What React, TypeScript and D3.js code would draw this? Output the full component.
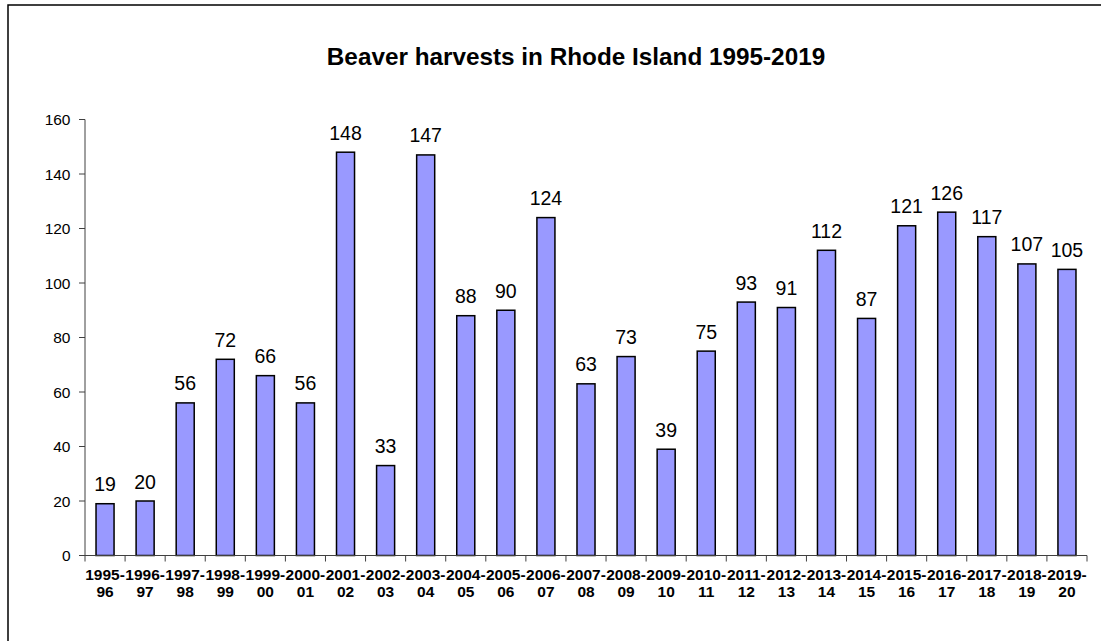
import React from "react";
import * as d3 from "d3";

// Beaver harvest counts per trapping season
const seasons = [
  "1995-96", "1996-97", "1997-98", "1998-99", "1999-00", "2000-01", "2001-02",
  "2002-03", "2003-04", "2004-05", "2005-06", "2006-07", "2007-08", "2008-09",
  "2009-10", "2010-11", "2011-12", "2012-13", "2013-14", "2014-15", "2015-16",
  "2016-17", "2017-18", "2018-19", "2019-20",
];
const harvests = [
  19, 20, 56, 72, 66, 56, 148, 33, 147, 88, 90, 124, 63, 73, 39, 75, 93, 91,
  112, 87, 121, 126, 117, 107, 105,
];
const yTicks = [0, 20, 40, 60, 80, 100, 120, 140, 160];
const title = "Beaver harvests in Rhode Island 1995-2019";

const W = 1101;
const H = 641;
const left = 85;
const right = 1087;
const top = 119.5;
const bottom = 555.5;
const font = "'Liberation Sans', Arial, sans-serif";

export default function App() {
  const x = d3
    .scaleBand<string>()
    .domain(seasons)
    .range([left, right])
    .paddingInner(0.55)
    .paddingOuter(0.275);
  const y = d3.scaleLinear().domain([0, 160]).range([bottom, top]);
  const boundaries = d3
    .range(seasons.length + 1)
    .map((i) => left + i * ((right - left) / seasons.length));

  return (
    <svg
      width={W}
      height={H}
      style={{ position: "absolute", left: 0, top: 0, background: "#fff" }}
      fontFamily={font}
    >
      <rect x={8} y={5} width={W} height={H} fill="#fff" stroke="#000" strokeWidth={1.5} />
      <text x={576} y={64.5} textAnchor="middle" fontSize={24.3} fontWeight="bold" fill="#000">
        {title}
      </text>

      {/* y axis */}
      <line x1={left} x2={left} y1={y(160)} y2={y(0)} stroke="#404040" strokeWidth={1} />
      {yTicks.map((t) => (
        <g key={t}>
          <line x1={left - 6} x2={left} y1={y(t)} y2={y(t)} stroke="#404040" strokeWidth={1} />
          <text x={70.5} y={y(t)} dy="0.36em" textAnchor="end" fontSize={15.5} fill="#000">
            {t}
          </text>
        </g>
      ))}

      {/* bars */}
      {seasons.map((s, i) => (
        <g key={s}>
          <rect
            x={x(s)!}
            y={y(harvests[i])}
            width={x.bandwidth()}
            height={y(0) - y(harvests[i])}
            fill="#9999FF"
            stroke="#000"
            strokeWidth={1.5}
          />
          <text
            x={x(s)! + x.bandwidth() / 2}
            y={y(harvests[i]) - 12.5}
            textAnchor="middle"
            fontSize={19.5}
            fill="#000"
          >
            {harvests[i]}
          </text>
        </g>
      ))}

      {/* x axis */}
      <line x1={left} x2={right} y1={bottom} y2={bottom} stroke="#404040" strokeWidth={1} />
      {boundaries.map((bx, i) => (
        <line key={i} x1={bx} x2={bx} y1={bottom} y2={bottom + 6} stroke="#404040" strokeWidth={1} />
      ))}
      {seasons.map((s) => {
        const [a, b] = s.split("-");
        const cx = x(s)! + x.bandwidth() / 2;
        return (
          <text key={s} x={cx} textAnchor="middle" fontSize={15.5} fontWeight="bold" fill="#000">
            <tspan x={cx} y={580}>{a + "-"}</tspan>
            <tspan x={cx} y={596.7}>{b}</tspan>
          </text>
        );
      })}
    </svg>
  );
}
